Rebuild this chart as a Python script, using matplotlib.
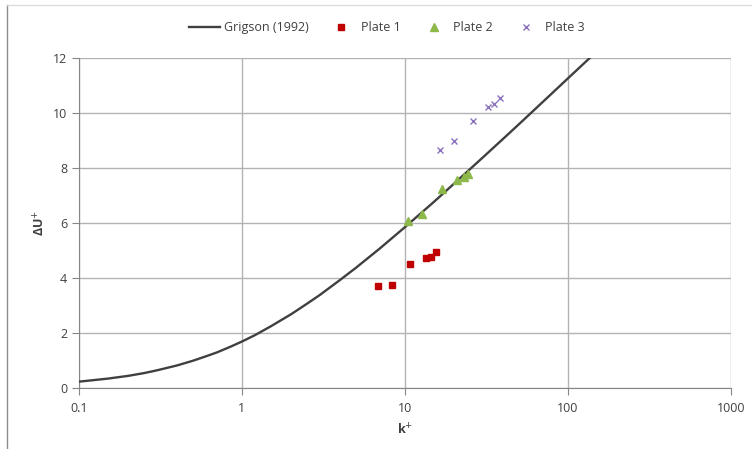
import numpy as np
import matplotlib.pyplot as plt
from matplotlib.lines import Line2D

plt.rcParams['font.family'] = ['Open Sans', 'DejaVu Sans']

# Grigson (1992) curve
k_curve = [0.1, 0.15, 0.2, 0.25, 0.3, 0.4, 0.5, 0.6, 0.7, 0.85, 1, 1.2, 1.5, 2, 2.5, 3, 4,
           5, 7, 10, 15, 20, 30, 40, 50, 70, 100, 136]
du_curve = [0.23, 0.34, 0.44, 0.54, 0.64, 0.82, 0.99, 1.15, 1.29, 1.50, 1.69, 1.92, 2.24,
            2.68, 3.06, 3.38, 3.93, 4.37, 5.07, 5.85, 6.76, 7.43, 8.38, 9.06, 9.59, 10.40,
            11.26, 12.0]

# measured points
k_p1 = [6.8, 8.3, 10.8, 13.4, 14.4, 15.6]
du_p1 = [3.71, 3.75, 4.51, 4.73, 4.76, 4.95]

k_p2 = [10.4, 12.7, 16.8, 21.0, 22.9, 24.5]
du_p2 = [6.07, 6.33, 7.24, 7.56, 7.67, 7.78]

k_p3 = [16.3, 20.1, 26.3, 32.4, 35.1, 38.5]
du_p3 = [8.64, 8.99, 9.72, 10.23, 10.33, 10.53]

fig = plt.figure(figsize=(7.52, 4.49), dpi=100)
ax = fig.add_axes([0.105, 0.1359, 0.867, 0.7349])

ax.plot(k_curve, du_curve, color='#404040', lw=1.7, label='Grigson (1992)', zorder=3)
ax.plot(k_p1, du_p1, 's', color='#c00000', ms=5, label='Plate 1', zorder=4)
ax.plot(k_p2, du_p2, '^', color='#8db84a', ms=6, label='Plate 2', zorder=4)
ax.plot(k_p3, du_p3, 'x', color='#8b72bd', ms=5, mew=1.0, label='Plate 3', zorder=4)

ax.set_xscale('log')
ax.set_xlim(0.1, 1000)
ax.set_ylim(0, 12)
ax.set_xticks([0.1, 1, 10, 100, 1000])
ax.set_xticklabels(['0.1', '1', '10', '100', '1000'])
ax.minorticks_off()
ax.set_yticks(range(0, 13, 2))
ax.grid(True, color='#b3b3b3', lw=1.0)
ax.set_axisbelow(True)
for s in ['top', 'right']:
    ax.spines[s].set_visible(False)
for s in ['left', 'bottom']:
    ax.spines[s].set_color('#868686')
ax.tick_params(colors='#404040', labelsize=9, length=5, color='#868686')
ax.tick_params(axis='x', pad=5)

ax.set_xlabel('k$^{+}$', fontsize=9, fontweight='bold', color='#404040', labelpad=5)
ax.set_ylabel('ΔU$^{+}$', fontsize=9, fontweight='bold', color='#404040', labelpad=4)

leg_handles, leg_labels = ax.get_legend_handles_labels()
ax.legend(leg_handles, leg_labels, loc='lower center', bbox_to_anchor=(0.472, 1.045),
          ncol=4, frameon=False, fontsize=9, handlelength=2.5, columnspacing=1.4,
          handletextpad=0.3, labelcolor='#404040', borderpad=0.2)

# outer chart frame (partly cropped)
fig.add_artist(Line2D([7 / 752, 7 / 752], [0, 1 - 5 / 449], color='#8c8c8c', lw=1,
                      transform=fig.transFigure))
fig.add_artist(Line2D([7 / 752, 1], [1 - 5 / 449, 1 - 5 / 449], color='#dcdcdc', lw=1,
                      transform=fig.transFigure))

plt.savefig('out.png', dpi=100)
